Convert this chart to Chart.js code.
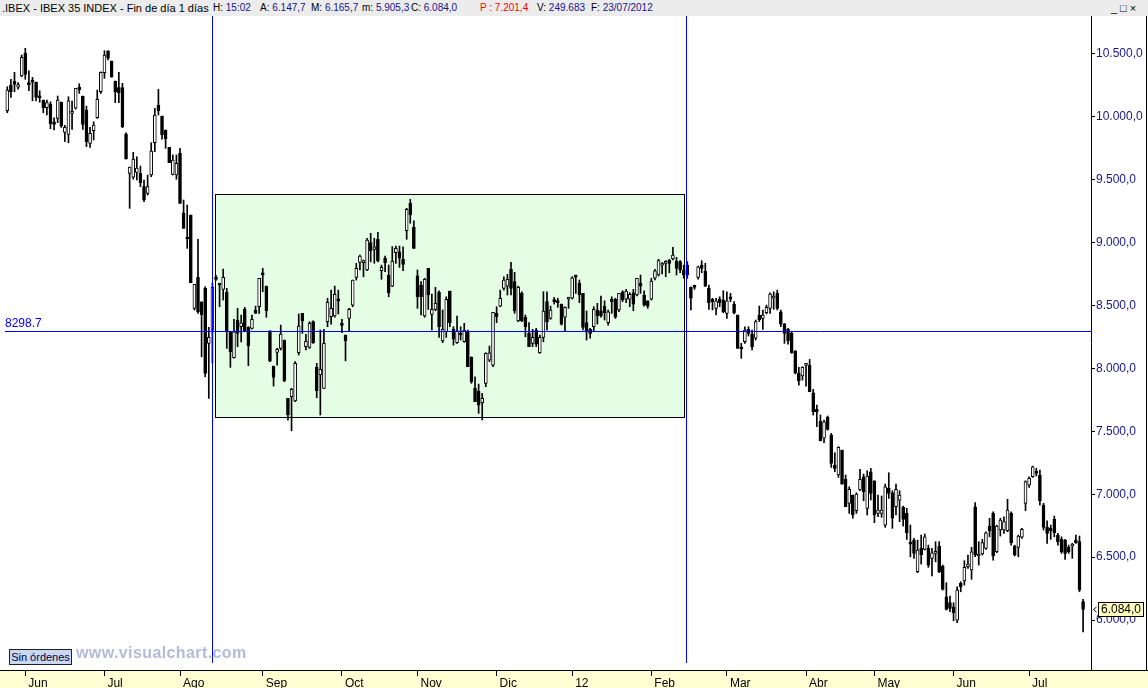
<!DOCTYPE html>
<html>
<head>
<meta charset="utf-8">
<script src="https://cdn.jsdelivr.net/npm/chart.js@4.4.1/dist/chart.umd.min.js"></script>
<style>
    html, body { margin: 0; padding: 0; background: #fff; }
    #marco { position: relative; width: 1148px; height: 688px; overflow: hidden; font-family: "Liberation Sans", Arial, sans-serif; }
    #grafico { position: absolute; left: 0; top: 0; }
    #cabecera { position: absolute; left: 0; top: 0; width: 1148px; height: 16px; background: #ececec; font-size: 10px; line-height: 16px; white-space: nowrap; }
    #cabecera span { position: absolute; top: 0; }
    #cabecera .titulo { font-size: 11px; }
    #cabecera i { font-style: normal; color: #16168a; }
    #cabecera .rojo { color: #ff0000; }
    #botones { left: 1111px; font-size: 11px; letter-spacing: 3px; color: #000; }
    #ordenes { position: absolute; left: 9px; top: 649px; width: 61px; height: 14px; background: #c9d8f0; border: 1px solid #202020; font-size: 11px; line-height: 14px; text-align: center; color: #000040; }
    #marcaAgua { position: absolute; left: 76px; top: 644px; font-size: 16px; font-weight: bold; letter-spacing: 0.4px; color: #b2bcd8; }
</style>
</head>
<body>
<div id="marco">
    <canvas id="grafico" width="1148" height="688"></canvas>
    <div id="cabecera">
        <span class="titulo" style="left:2px">.IBEX - IBEX 35 INDEX - Fin de día 1 días</span>
        <span style="left:213px">H: <i>15:02</i></span>
        <span style="left:260px">A: <i>6.147,7</i></span>
        <span style="left:311px">M: <i>6.165,7</i></span>
        <span style="left:362px">m: <i>5.905,3</i></span>
        <span style="left:411px">C: <i>6.084,0</i></span>
        <span style="left:480px" class="rojo">P : 7.201,4</span>
        <span style="left:537px">V: <i>249.683</i></span>
        <span style="left:591px">F: <i>23/07/2012</i></span>
        <span id="botones">_□×</span>
    </div>
    <div id="ordenes">Sin órdenes</div>
    <div id="marcaAgua">www.visualchart.com</div>
</div>
<script>
// Velas diarias del IBEX 35, 25/05/2011 a 23/07/2012
const apertura = [
    10049, 10253, 10283, 10237, 10325, 10505, 10262, 10284, 10277, 10166,
    10134, 10073, 10102, 9961, 9988, 10118, 9877, 9861, 10028, 10070,
    10237, 10166, 10055, 9790, 9890, 9993, 10200, 10351, 10526, 10444,
    10285, 10232, 10232, 9864, 9551, 9520, 9559, 9551, 9445, 9392,
    9538, 9795, 10094, 10007, 9896, 9758, 9543, 9538, 9710, 9238,
    9045, 9220, 8478, 8724, 8530, 8637, 8200, 8305, 8724, 8669,
    8629, 8605, 8292, 8085, 8385, 8332, 8472, 8327, 8319, 8465,
    8491, 8756, 8655, 8300, 8019, 8128, 8160, 8226, 7762, 7775,
    7743, 8125, 8438, 8173, 8168, 8372, 8009, 7948, 7842, 8372,
    8411, 8417, 8552, 8353, 8266, 8398, 8504, 8724, 8844, 8841,
    8783, 9000, 8947, 9027, 8777, 8876, 8743, 8655, 8920, 8928,
    8868, 9095, 9313, 9122, 8737, 8663, 8417, 8796, 8430, 8470,
    8605, 8220, 8292, 8616, 8311, 8205, 8279, 8213, 8292, 8088,
    7842, 7821, 7728, 7882, 8067, 8027, 8438, 8496, 8637, 8655,
    8788, 8690, 8379, 8597, 8407, 8279, 8200, 8306, 8125, 8247,
    8531, 8398, 8544, 8536, 8512, 8407, 8550, 8558, 8733, 8677,
    8597, 8364, 8311, 8332, 8465, 8459, 8496, 8364, 8552, 8550,
    8465, 8610, 8550, 8550, 8602, 8584, 8677, 8584, 8538, 8550,
    8717, 8743, 8822, 8836, 8862, 8870, 8854, 8849, 8783, 8822,
    8645, 8655, 8724, 8822, 8775, 8637, 8550, 8478, 8550, 8544,
    8438, 8570, 8512, 8425, 8165, 8213, 8311, 8274, 8240, 8425,
    8398, 8443, 8478, 8558, 8597, 8451, 8353, 8311, 8279, 8141,
    7961, 7940, 8025, 8027, 7807, 7675, 7582, 7445, 7611, 7471,
    7232, 7153, 7352, 7119, 6928, 6994, 6869, 7034, 7139, 6888,
    7179, 7107, 6848, 6848, 6755, 7047, 7012, 6901, 6954, 6896,
    6848, 6618, 6636, 6384, 6570, 6562, 6570, 6491, 6530, 6588,
    6429, 6185, 6138, 6106, 6000, 6292, 6312, 6424, 6398, 6901,
    6509, 6525, 6570, 6747, 6848, 6543, 6716, 6716, 6710, 6848,
    6588, 6578, 6658, 6928, 7073, 7139, 7179, 7153, 6914, 6737,
    6729, 6801, 6676, 6642, 6636, 6578, 6588, 6636, 6623, 6147.7
];
const maximo = [
    10240, 10298, 10354, 10272, 10492, 10545, 10367, 10314, 10277, 10208,
    10134, 10134, 10120, 9993, 10166, 10118, 9933, 10160, 10126, 10227,
    10264, 10166, 10086, 9917, 9961, 10213, 10359, 10526, 10526, 10444,
    10285, 10354, 10267, 9874, 9601, 9718, 9683, 9609, 9498, 9538,
    9795, 10068, 10219, 10007, 9896, 9758, 9697, 9697, 9750, 9339,
    9299, 9220, 8669, 9027, 8530, 8650, 8327, 8679, 8740, 8669,
    8790, 8637, 8292, 8391, 8478, 8425, 8486, 8332, 8425, 8496,
    8717, 8796, 8655, 8300, 8019, 8160, 8345, 8226, 7762, 7842,
    8054, 8433, 8438, 8271, 8372, 8379, 8041, 8306, 8311, 8558,
    8623, 8655, 8623, 8391, 8266, 8478, 8703, 8836, 8902, 8862,
    9035, 9074, 9035, 9082, 8822, 8894, 8822, 8968, 8973, 8973,
    8968, 9273, 9345, 9174, 8783, 8690, 8717, 8796, 8592, 8645,
    8618, 8465, 8570, 8616, 8332, 8417, 8332, 8359, 8306, 8093,
    7934, 7876, 7802, 8125, 8178, 8446, 8491, 8623, 8729, 8748,
    8844, 8764, 8655, 8610, 8425, 8364, 8311, 8319, 8266, 8610,
    8610, 8496, 8565, 8558, 8512, 8491, 8565, 8729, 8743, 8703,
    8597, 8457, 8319, 8491, 8518, 8576, 8538, 8465, 8570, 8558,
    8597, 8618, 8629, 8602, 8629, 8717, 8743, 8618, 8538, 8717,
    8788, 8868, 8841, 8857, 8868, 8963, 8883, 8857, 8822, 8849,
    8650, 8663, 8814, 8857, 8836, 8663, 8558, 8558, 8570, 8618,
    8610, 8597, 8531, 8425, 8200, 8332, 8332, 8306, 8385, 8496,
    8465, 8504, 8602, 8610, 8623, 8465, 8359, 8319, 8292, 8141,
    8009, 8014, 8041, 8072, 7834, 7709, 7630, 7590, 7622, 7484,
    7330, 7378, 7352, 7153, 7060, 6994, 7012, 7198, 7161, 7187,
    7206, 7107, 6994, 6986, 7081, 7171, 7028, 7081, 7028, 6906,
    6888, 6755, 6649, 6636, 6676, 6684, 6596, 6570, 6623, 6623,
    6437, 6297, 6191, 6138, 6265, 6305, 6472, 6517, 6578, 6933,
    6623, 6642, 6702, 6809, 6861, 6755, 6809, 6821, 6960, 6861,
    6596, 6676, 6729, 7107, 7139, 7224, 7206, 7193, 6928, 6789,
    6755, 6827, 6689, 6662, 6642, 6596, 6610, 6676, 6668, 6165.7
];
const minimo = [
    10033, 10155, 10200, 10221, 10319, 10299, 10208, 10128, 10126, 10116,
    10033, 10015, 9906, 9896, 9954, 9917, 9803, 9794, 9901, 10062,
    10187, 9901, 9763, 9758, 9816, 9988, 10187, 10307, 10452, 10314,
    10113, 10113, 9914, 9663, 9273, 9504, 9498, 9445, 9326, 9379,
    9524, 9723, 10015, 9822, 9750, 9636, 9538, 9504, 9313, 9114,
    8955, 8682, 8465, 8438, 8093, 7934, 7762, 8043, 8700, 8491,
    8544, 8160, 8009, 8081, 8173, 8212, 8292, 8022, 8313, 8438,
    8438, 8610, 8407, 8054, 7860, 8027, 8147, 7894, 7590, 7505,
    7736, 8107, 8279, 8147, 8160, 8200, 7767, 7630, 7842, 8332,
    8353, 8407, 8433, 8284, 8061, 8300, 8491, 8703, 8783, 8729,
    8777, 8848, 8836, 8848, 8709, 8769, 8570, 8650, 8836, 8804,
    8777, 9027, 9154, 8955, 8478, 8425, 8407, 8470, 8306, 8459,
    8247, 8205, 8247, 8332, 8186, 8200, 8226, 8208, 8014, 7882,
    7736, 7643, 7590, 7855, 8054, 8014, 8364, 8491, 8623, 8584,
    8584, 8438, 8372, 8372, 8252, 8173, 8173, 8173, 8120, 8212,
    8306, 8391, 8512, 8486, 8345, 8292, 8478, 8552, 8597, 8523,
    8306, 8226, 8240, 8292, 8353, 8407, 8385, 8345, 8438, 8398,
    8451, 8531, 8523, 8491, 8459, 8576, 8597, 8496, 8478, 8544,
    8703, 8735, 8751, 8729, 8761, 8862, 8743, 8761, 8717, 8717,
    8465, 8629, 8709, 8761, 8650, 8470, 8465, 8425, 8491, 8443,
    8398, 8531, 8433, 8160, 8081, 8200, 8258, 8147, 8226, 8372,
    8311, 8433, 8438, 8470, 8465, 8332, 8200, 8194, 8120, 7956,
    7868, 7908, 7860, 7815, 7630, 7537, 7425, 7410, 7510, 7214,
    7179, 7134, 7081, 6901, 6848, 6809, 6848, 7028, 6948, 6835,
    6954, 6774, 6821, 6817, 6737, 6967, 6729, 6835, 6782, 6747,
    6641, 6503, 6491, 6376, 6445, 6557, 6419, 6350, 6463, 6376,
    6239, 6080, 6066, 5994, 5979, 6225, 6278, 6411, 6324, 6503,
    6437, 6517, 6562, 6662, 6477, 6535, 6668, 6689, 6702, 6596,
    6509, 6503, 6649, 6869, 7055, 7134, 7145, 6914, 6716, 6610,
    6642, 6662, 6596, 6530, 6483, 6530, 6491, 6610, 6225, 5905.3
];
const cierre = [
    10213, 10200, 10259, 10256, 10473, 10338, 10256, 10276, 10155, 10152,
    10073, 10113, 9946, 9941, 10134, 9927, 9917, 10128, 10044, 10227,
    10216, 9941, 9803, 9869, 9935, 10140, 10354, 10492, 10466, 10319,
    10200, 10192, 9922, 9665, 9601, 9665, 9593, 9477, 9339, 9445,
    9729, 10015, 10049, 9856, 9824, 9636, 9657, 9631, 9313, 9114,
    9029, 8682, 8669, 8451, 8425, 7961, 8247, 8647, 8708, 8663,
    8724, 8300, 8133, 8292, 8279, 8363, 8300, 8181, 8391, 8438,
    8717, 8745, 8459, 8059, 7929, 8152, 8274, 7902, 7630, 7834,
    8041, 8337, 8379, 8216, 8359, 8205, 7823, 7993, 8200, 8526,
    8478, 8589, 8538, 8343, 8220, 8470, 8703, 8796, 8894, 8849,
    9021, 8936, 8968, 8856, 8804, 8841, 8602, 8854, 8955, 8876,
    8828, 9265, 9220, 8955, 8570, 8570, 8709, 8584, 8470, 8518,
    8332, 8311, 8550, 8364, 8232, 8300, 8266, 8306, 8014, 7894,
    7736, 7709, 7762, 8120, 8125, 8446, 8411, 8558, 8703, 8709,
    8637, 8457, 8645, 8379, 8332, 8173, 8247, 8194, 8247, 8457,
    8372, 8465, 8531, 8523, 8353, 8486, 8565, 8721, 8725, 8584,
    8327, 8292, 8279, 8470, 8417, 8417, 8443, 8451, 8531, 8407,
    8597, 8544, 8616, 8589, 8512, 8717, 8655, 8504, 8496, 8695,
    8777, 8857, 8836, 8849, 8836, 8902, 8796, 8783, 8743, 8743,
    8558, 8645, 8809, 8796, 8655, 8523, 8531, 8538, 8523, 8451,
    8538, 8550, 8443, 8160, 8155, 8306, 8279, 8173, 8372, 8385,
    8425, 8486, 8592, 8576, 8478, 8353, 8279, 8220, 8125, 7966,
    7902, 8009, 8041, 7815, 7656, 7656, 7425, 7576, 7516, 7246,
    7206, 7373, 7081, 6901, 7039, 6835, 7002, 7119, 7020, 7145,
    7007, 6835, 6875, 6875, 7060, 7007, 6809, 7039, 6994, 6801,
    6694, 6604, 6530, 6557, 6517, 6662, 6437, 6535, 6543, 6384,
    6244, 6085, 6093, 6058, 6239, 6265, 6419, 6445, 6543, 6517,
    6525, 6615, 6694, 6710, 6509, 6747, 6795, 6782, 6875, 6615,
    6517, 6668, 6721, 7100, 7126, 7219, 7166, 6949, 6737, 6689,
    6710, 6694, 6623, 6543, 6530, 6543, 6596, 6615, 6239, 6084.0
];

const valoresEje = [6000, 6500, 7000, 7500, 8000, 8500, 9000, 9500, 10000, 10500];
const nombresMes = ['Ene', 'Feb', 'Mar', 'Abr', 'May', 'Jun', 'Jul', 'Ago', 'Sep', 'Oct', 'Nov', 'Dic'];
const festivos = ['2011-12-26', '2012-04-06', '2012-04-09', '2012-05-01'];

// dibujo del analista
const cajaX = [57.7, 188.1];
const cajaY = [7614, 9387];
const lineasVerticales = [56.9, 188.65];
const nivelHorizontal = 8298.7;
const ultimoPrecio = 6084.0;

const claveFecha = d => d.getFullYear() + '-' + String(d.getMonth() + 1).padStart(2, '0') + '-' + String(d.getDate()).padStart(2, '0');

const fechas = [];
for (let d = new Date(2011, 4, 25); fechas.length < cierre.length; d.setDate(d.getDate() + 1)) {
    if (d.getDay() === 0 || d.getDay() === 6 || festivos.includes(claveFecha(d))) continue;
    fechas.push(new Date(d));
}
const inicioMes = fechas.map((f, i) => i).filter(i => i > 0 && fechas[i].getMonth() !== fechas[i - 1].getMonth());

const etiquetaMes = i => {
    const f = fechas[i];
    if (!f) return '';
    return f.getMonth() === 0 ? String(f.getFullYear()).slice(2) : nombresMes[f.getMonth()];
};

const formatoPrecio = v => {
    const [ent, dec] = v.toFixed(1).split('.');
    return ent.replace(/\B(?=(\d{3})+(?!\d))/g, '.') + ',' + dec;
};

const indices = cierre.map((c, i) => i);

const marcas = {
    id: 'marcas',
    beforeDraw(chart) {
        const { ctx, width, height, chartArea } = chart;
        ctx.save();
        ctx.fillStyle = '#ffffd4';
        ctx.fillRect(0, chartArea.bottom, width, height - chartArea.bottom);
        ctx.restore();
    },
    beforeDatasetsDraw(chart) {
        const { ctx, scales: { x, y } } = chart;
        const x0 = Math.round(x.getPixelForValue(cajaX[0])) + 0.5;
        const x1 = Math.round(x.getPixelForValue(cajaX[1])) + 0.5;
        const y0 = Math.round(y.getPixelForValue(cajaY[1])) + 0.5;
        const y1 = Math.round(y.getPixelForValue(cajaY[0])) + 0.5;
        ctx.save();
        ctx.fillStyle = '#e4fde4';
        ctx.fillRect(x0, y0, x1 - x0, y1 - y0);
        ctx.strokeStyle = '#000';
        ctx.lineWidth = 1;
        ctx.strokeRect(x0, y0, x1 - x0, y1 - y0);
        ctx.restore();
    },
    afterDatasetsDraw(chart) {
        const { ctx, chartArea, scales: { x, y } } = chart;
        ctx.save();
        ctx.strokeStyle = '#0000ff';
        ctx.lineWidth = 1;
        const yn = Math.round(y.getPixelForValue(nivelHorizontal)) + 0.5;
        ctx.beginPath();
        ctx.moveTo(5, yn);
        ctx.lineTo(chartArea.right, yn);
        lineasVerticales.forEach(v => {
            const xv = Math.round(x.getPixelForValue(v)) + 0.5;
            ctx.moveTo(xv, chartArea.top - 2);
            ctx.lineTo(xv, chartArea.bottom - 7);
        });
        ctx.stroke();
        ctx.fillStyle = '#0000ff';
        ctx.font = '12px "Liberation Sans", Arial, sans-serif';
        ctx.textBaseline = 'middle';
        ctx.fillText(String(nivelHorizontal), 5, yn - 8);
        ctx.restore();
    },
    afterDraw(chart) {
        const { ctx, width, chartArea, scales: { y } } = chart;
        ctx.save();
        ctx.strokeStyle = '#000';
        ctx.lineWidth = 1;
        ctx.beginPath();
        ctx.moveTo(0, chartArea.bottom + 0.5);
        ctx.lineTo(width, chartArea.bottom + 0.5);
        ctx.moveTo(width - 1.5, chartArea.top);
        ctx.lineTo(width - 1.5, chartArea.bottom);
        ctx.stroke();

        const yp = Math.round(y.getPixelForValue(ultimoPrecio));
        const bx = chartArea.right + 7;
        ctx.fillStyle = '#ffffc0';
        ctx.fillRect(bx, yp - 7, 46, 15);
        ctx.strokeRect(bx + 0.5, yp - 6.5, 45, 14);
        ctx.fillStyle = '#000';
        ctx.font = '12px "Liberation Sans", Arial, sans-serif';
        ctx.textBaseline = 'middle';
        ctx.textAlign = 'center';
        ctx.fillText(formatoPrecio(ultimoPrecio), bx + 23, yp + 1);
        ctx.beginPath();
        ctx.moveTo(chartArea.right + 5.5, yp - 2);
        ctx.lineTo(chartArea.right + 2.5, yp + 0.5);
        ctx.lineTo(chartArea.right + 5.5, yp + 3);
        ctx.stroke();
        ctx.restore();
    }
};

Chart.defaults.font.family = '"Liberation Sans", Arial, sans-serif';

const grafico = new Chart(document.getElementById('grafico').getContext('2d'), {
    type: 'bar',
    data: {
        datasets: [{
            label: 'Cuerpo',
            data: indices.map(i => ({ x: i, y: [apertura[i], cierre[i]] })),
            backgroundColor: indices.map(i => cierre[i] >= apertura[i] ? '#ffffff' : '#000000'),
            borderColor: '#000000',
            borderWidth: 1,
            borderSkipped: false,
            barThickness: 3,
            minBarLength: 2,
            grouped: false,
            order: 1
        }, {
            label: 'Mecha',
            data: indices.map(i => ({ x: i, y: [minimo[i], maximo[i]] })),
            backgroundColor: '#000000',
            borderWidth: 0,
            barThickness: 1,
            grouped: false,
            order: 2
        }]
    },
    options: {
        responsive: false,
        animation: false,
        events: [],
        layout: { padding: { top: 16, left: 0, right: 0, bottom: 0 } },
        scales: {
            x: {
                type: 'linear',
                min: -2.03,
                max: 301.2,
                offset: false,
                afterBuildTicks: ax => { ax.ticks = inicioMes.map(i => ({ value: i })); },
                afterFit: ax => { ax.height = 18; },
                ticks: {
                    align: 'start',
                    labelOffset: 3,
                    padding: 0,
                    maxRotation: 0,
                    autoSkip: false,
                    color: '#000',
                    font: { size: 12 },
                    callback: v => etiquetaMes(v)
                },
                grid: { drawOnChartArea: false, tickLength: 6, color: '#000', offset: false },
                border: { color: '#000' }
            },
            y: {
                position: 'right',
                min: 5603,
                max: 10802,
                afterBuildTicks: ax => { ax.ticks = valoresEje.map(v => ({ value: v })); },
                afterFit: ax => { ax.width = 57; },
                ticks: {
                    color: '#16168a',
                    font: { size: 12 },
                    padding: 1,
                    callback: v => formatoPrecio(v)
                },
                grid: { drawOnChartArea: false, tickLength: 4, color: '#000' },
                border: { color: '#000' }
            }
        },
        plugins: {
            legend: { display: false },
            tooltip: { enabled: false }
        }
    },
    plugins: [marcas]
});
</script>
</body>
</html>
